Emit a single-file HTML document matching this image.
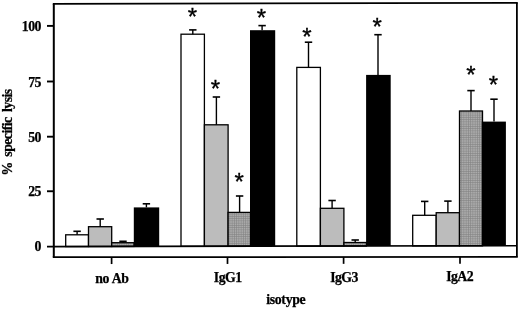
<!DOCTYPE html>
<html><head><meta charset="utf-8"><title>isotype lysis</title>
<style>
html,body{margin:0;padding:0;background:#fff;}
body{width:520px;height:309px;overflow:hidden;}
svg{display:block;}
.lab{font-family:"Liberation Serif",serif;font-weight:bold;font-size:13.8px;letter-spacing:-0.55px;word-spacing:0.8px;fill:#000;stroke:#000;stroke-width:0.25px;}
.star{font-family:"Liberation Sans",sans-serif;font-size:24px;fill:#000;stroke:#000;stroke-width:0.35px;}
</style></head><body>
<svg width="520" height="309" viewBox="0 0 520 309">
<defs><pattern id="hatch" width="2.25" height="2.25" patternUnits="userSpaceOnUse"><rect width="2.25" height="2.25" fill="#ababab"/><path d="M0 0.3H2.25M0.3 0V2.25" stroke="#828282" stroke-width="0.6"/></pattern></defs>
<rect width="520" height="309" fill="#fff"/>
<rect x="65.70" y="234.80" width="22.80" height="11.71" fill="#ffffff" stroke="#000" stroke-width="1.3"/>
<path d="M77.10 234.80V231.30" stroke="#000" stroke-width="1.4" fill="none"/><path d="M73.40 231.30H80.80" stroke="#000" stroke-width="1.6" fill="none"/>
<rect x="88.50" y="226.70" width="23.20" height="19.77" fill="#bcbcbc" stroke="#000" stroke-width="1.3"/>
<path d="M100.20 226.70V219.00" stroke="#000" stroke-width="1.4" fill="none"/><path d="M96.50 219.00H103.90" stroke="#000" stroke-width="1.6" fill="none"/>
<rect x="111.70" y="242.70" width="22.30" height="3.73" fill="url(#hatch)" stroke="#000" stroke-width="1.3"/>
<path d="M123.00 242.70V241.30" stroke="#000" stroke-width="1.4" fill="none"/><path d="M119.30 241.30H126.70" stroke="#000" stroke-width="1.6" fill="none"/>
<rect x="133.80" y="207.40" width="25.40" height="38.99" fill="#000"/>
<path d="M146.40 207.40V203.80" stroke="#000" stroke-width="1.4" fill="none"/><path d="M142.70 203.80H150.10" stroke="#000" stroke-width="1.6" fill="none"/>
<rect x="181.00" y="34.20" width="23.40" height="212.11" fill="#ffffff" stroke="#000" stroke-width="1.3"/>
<path d="M192.80 34.20V29.90" stroke="#000" stroke-width="1.4" fill="none"/><path d="M189.10 29.90H196.50" stroke="#000" stroke-width="1.6" fill="none"/>
<text x="192.30" y="24.80" text-anchor="middle" class="star">*</text>
<rect x="204.40" y="124.80" width="23.70" height="121.47" fill="#bcbcbc" stroke="#000" stroke-width="1.3"/>
<path d="M216.40 124.80V97.00" stroke="#000" stroke-width="1.4" fill="none"/><path d="M212.70 97.00H220.10" stroke="#000" stroke-width="1.6" fill="none"/>
<text x="215.40" y="97.20" text-anchor="middle" class="star">*</text>
<rect x="228.10" y="212.40" width="22.40" height="33.83" fill="url(#hatch)" stroke="#000" stroke-width="1.3"/>
<path d="M239.60 212.40V196.00" stroke="#000" stroke-width="1.4" fill="none"/><path d="M235.90 196.00H243.30" stroke="#000" stroke-width="1.6" fill="none"/>
<text x="239.10" y="189.60" text-anchor="middle" class="star">*</text>
<rect x="250.00" y="30.20" width="25.20" height="215.99" fill="#000"/>
<path d="M262.10 30.20V25.60" stroke="#000" stroke-width="1.4" fill="none"/><path d="M258.40 25.60H265.80" stroke="#000" stroke-width="1.6" fill="none"/>
<text x="261.50" y="26.10" text-anchor="middle" class="star">*</text>
<rect x="296.80" y="67.40" width="23.60" height="178.71" fill="#ffffff" stroke="#000" stroke-width="1.3"/>
<path d="M308.50 67.40V42.20" stroke="#000" stroke-width="1.4" fill="none"/><path d="M304.80 42.20H312.20" stroke="#000" stroke-width="1.6" fill="none"/>
<text x="306.90" y="45.20" text-anchor="middle" class="star">*</text>
<rect x="320.40" y="208.30" width="23.50" height="37.77" fill="#bcbcbc" stroke="#000" stroke-width="1.3"/>
<path d="M332.10 208.30V200.50" stroke="#000" stroke-width="1.4" fill="none"/><path d="M328.40 200.50H335.80" stroke="#000" stroke-width="1.6" fill="none"/>
<rect x="343.90" y="242.50" width="22.50" height="3.53" fill="url(#hatch)" stroke="#000" stroke-width="1.3"/>
<path d="M355.20 242.50V240.00" stroke="#000" stroke-width="1.4" fill="none"/><path d="M351.50 240.00H358.90" stroke="#000" stroke-width="1.6" fill="none"/>
<rect x="366.10" y="74.90" width="24.60" height="171.09" fill="#000"/>
<path d="M378.00 74.90V34.70" stroke="#000" stroke-width="1.4" fill="none"/><path d="M374.30 34.70H381.70" stroke="#000" stroke-width="1.6" fill="none"/>
<text x="377.20" y="34.80" text-anchor="middle" class="star">*</text>
<rect x="412.70" y="215.30" width="23.50" height="30.61" fill="#ffffff" stroke="#000" stroke-width="1.3"/>
<path d="M424.70 215.30V201.40" stroke="#000" stroke-width="1.4" fill="none"/><path d="M421.00 201.40H428.40" stroke="#000" stroke-width="1.6" fill="none"/>
<rect x="436.20" y="212.70" width="23.30" height="33.17" fill="#bcbcbc" stroke="#000" stroke-width="1.3"/>
<path d="M447.90 212.70V201.10" stroke="#000" stroke-width="1.4" fill="none"/><path d="M444.20 201.10H451.60" stroke="#000" stroke-width="1.6" fill="none"/>
<rect x="459.50" y="111.00" width="23.00" height="134.83" fill="url(#hatch)" stroke="#000" stroke-width="1.3"/>
<path d="M471.00 111.00V90.60" stroke="#000" stroke-width="1.4" fill="none"/><path d="M467.30 90.60H474.70" stroke="#000" stroke-width="1.6" fill="none"/>
<text x="470.80" y="83.00" text-anchor="middle" class="star">*</text>
<rect x="481.80" y="121.60" width="24.10" height="124.19" fill="#000"/>
<path d="M494.00 121.60V99.20" stroke="#000" stroke-width="1.4" fill="none"/><path d="M490.30 99.20H497.70" stroke="#000" stroke-width="1.6" fill="none"/>
<text x="493.30" y="92.60" text-anchor="middle" class="star">*</text>
<path d="M53.8 257.20L53.8 3.90" stroke="#000" stroke-width="2.0" fill="none"/>
<path d="M52.8 3.90L517.8 2.90" stroke="#000" stroke-width="1.75" fill="none"/>
<path d="M516.9 2.90L516.9 256.80" stroke="#000" stroke-width="1.8" fill="none"/>
<path d="M52.8 257.20L517.8 256.80" stroke="#000" stroke-width="1.8" fill="none"/>
<path d="M47.0 246.56L516.9 245.75" stroke="#000" stroke-width="1.7" fill="none"/>
<path d="M47.0 25.90H53.8" stroke="#000" stroke-width="1.9"/>
<path d="M47.0 81.50H53.8" stroke="#000" stroke-width="1.9"/>
<path d="M47.0 136.70H53.8" stroke="#000" stroke-width="1.9"/>
<path d="M47.0 191.25H53.8" stroke="#000" stroke-width="1.9"/>
<text x="40.9" y="30.90" text-anchor="end" class="lab">100</text>
<text x="40.9" y="86.50" text-anchor="end" class="lab">75</text>
<text x="40.9" y="141.70" text-anchor="end" class="lab">50</text>
<text x="40.9" y="196.25" text-anchor="end" class="lab">25</text>
<text x="40.9" y="251.40" text-anchor="end" class="lab">0</text>
<path d="M111.6 257.15V264.05" stroke="#000" stroke-width="1.7"/>
<path d="M227.5 257.05V263.95" stroke="#000" stroke-width="1.7"/>
<path d="M343.6 256.95V263.85" stroke="#000" stroke-width="1.7"/>
<path d="M460.0 256.85V263.75" stroke="#000" stroke-width="1.7"/>
<text x="111.8" y="283.0" text-anchor="middle" class="lab">no Ab</text>
<text x="227.7" y="282.1" text-anchor="middle" class="lab">IgG1</text>
<text x="344.0" y="281.7" text-anchor="middle" class="lab">IgG3</text>
<text x="459.6" y="281.2" text-anchor="middle" class="lab">IgA2</text>
<text x="285.8" y="303.6" text-anchor="middle" class="lab" style="letter-spacing:-0.3px">isotype</text>
<text transform="translate(12.4 132.4) rotate(-90)" text-anchor="middle" class="lab" style="word-spacing:2.6px">% specific lysis</text>
</svg>
</body></html>
